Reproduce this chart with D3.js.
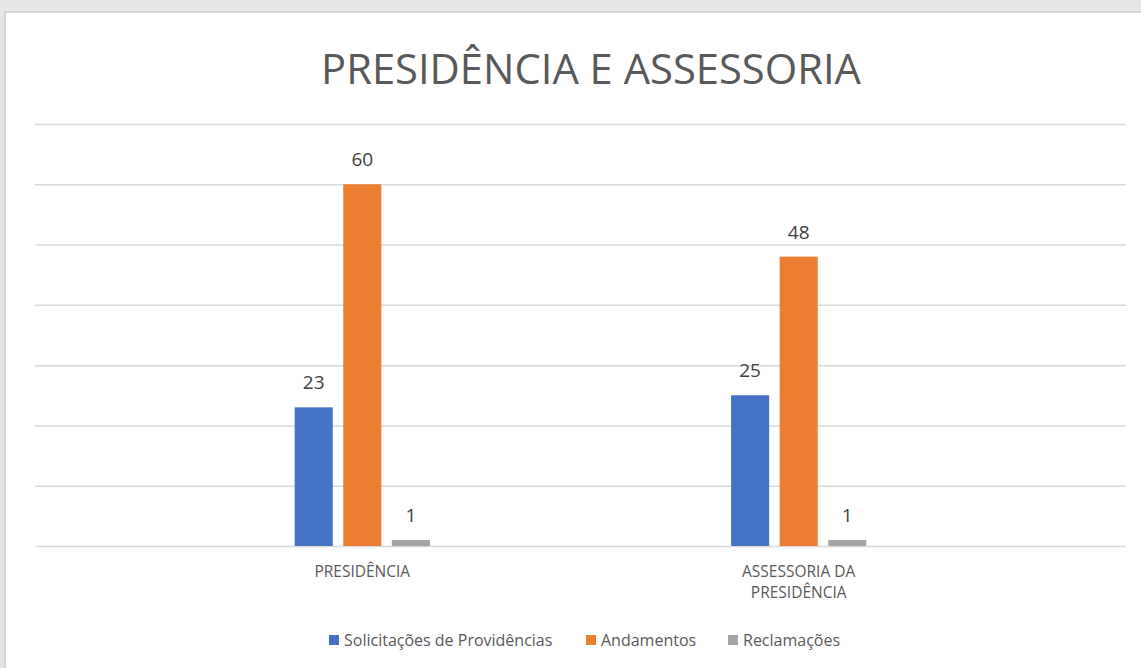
<!DOCTYPE html>
<html>
<head>
<meta charset="utf-8">
<script src="https://cdn.jsdelivr.net/npm/d3@7"></script>
<style>
  body { margin: 0; background: #e6e6e6; }
  svg { display: block; }
</style>
</head>
<body>
<div id="chart"></div>
<script>
var categories = ["PRESIDÊNCIA", "ASSESSORIA DA PRESIDÊNCIA"];
var series = ["Solicitações de Providências", "Andamentos", "Reclamações"];
var solicitacoes = [23, 25];
var andamentos = [60, 48];
var reclamacoes = [1, 1];
var yTicks = [0, 10, 20, 30, 40, 50, 60, 70];
var colors = ["#4472c4", "#ed7d31", "#a5a5a5"];

var width = 1141,
  height = 668;
var plot = { left: 35, right: 1126, top: 124, bottom: 546 };

var svg = d3.select("#chart")
  .append("svg")
  .attr("width", width)
  .attr("height", height);

// panel
svg.append("rect")
  .attr("x", 5).attr("y", 12)
  .attr("width", 1150).attr("height", 670)
  .attr("fill", "#ffffff")
  .attr("stroke", "#d4d4d4")
  .attr("stroke-width", 2);

// title
var title = svg.append("text")
  .attr("x", 591)
  .attr("y", 84)
  .attr("text-anchor", "middle")
  .attr("font-family", "'Open Sans', sans-serif")
  .attr("font-size", 42)
  .attr("fill", "#595959")
  .text("PRESIDÊNCIA E ASSESSORIA");
var tw = title.node().getComputedTextLength();
title.attr("font-size", 42 * 540 / tw);

var rows = categories.map(function(c, i) {
  return { cat: c, values: [solicitacoes[i], andamentos[i], reclamacoes[i]] };
});

var x0 = d3.scaleBand()
  .domain(categories)
  .range([plot.left, plot.right])
  .paddingInner(0)
  .paddingOuter(0.25);

var x1 = d3.scaleBand()
  .domain(series)
  .range([0, x0.bandwidth()])
  .paddingInner(0.216)
  .paddingOuter(3.1);

var y = d3.scaleLinear()
  .domain([0, 70])
  .range([plot.bottom, plot.top]);

// gridlines
var yAxis = d3.axisLeft(y)
  .tickValues(yTicks)
  .tickSize(-(plot.right - plot.left))
  .tickFormat("");
var gy = svg.append("g")
  .attr("transform", "translate(" + plot.left + ",0)")
  .call(yAxis);
gy.select(".domain").remove();
gy.selectAll(".tick line")
  .attr("stroke", "#d9d9d9")
  .attr("stroke-width", 1.5);

// bars
var groups = svg.append("g")
  .selectAll("g")
  .data(rows)
  .enter().append("g")
  .attr("transform", function(d) { return "translate(" + x0(d.cat) + ",0)"; });

groups.selectAll("rect")
  .data(function(d) { return d.values.map(function(v, i) { return { s: series[i], v: v, i: i }; }); })
  .enter().append("rect")
  .attr("x", function(d) { return x1(d.s); })
  .attr("y", function(d) { return y(d.v); })
  .attr("width", x1.bandwidth())
  .attr("height", function(d) { return y(0) - y(d.v); })
  .attr("fill", function(d) { return colors[d.i]; });

groups.selectAll("text")
  .data(function(d) { return d.values.map(function(v, i) { return { s: series[i], v: v, i: i }; }); })
  .enter().append("text")
  .attr("x", function(d) { return x1(d.s) + x1.bandwidth() / 2; })
  .attr("y", function(d) { return y(d.v) - 18; })
  .attr("text-anchor", "middle")
  .attr("font-family", "'Open Sans', sans-serif")
  .attr("font-size", 19)
  .attr("fill", "#404040")
  .text(function(d) { return d.v; });

// category labels
var xAxis = d3.axisBottom(x0).tickSize(0).tickFormat("");
var gx = svg.append("g")
  .attr("transform", "translate(0," + plot.bottom + ")")
  .call(xAxis);
gx.select(".domain").remove();

var catLines = [["PRESIDÊNCIA"], ["ASSESSORIA DA", "PRESIDÊNCIA"]];
categories.forEach(function(c, i) {
  var t = svg.append("text")
    .attr("x", x0(c) + x0.bandwidth() / 2)
    .attr("y", 577)
    .attr("text-anchor", "middle")
    .attr("font-family", "'Open Sans', sans-serif")
    .attr("font-size", 15.5)
    .attr("fill", "#595959");
  catLines[i].forEach(function(line, j) {
    t.append("tspan")
      .attr("x", x0(c) + x0.bandwidth() / 2)
      .attr("dy", j == 0 ? 0 : 21)
      .text(line);
  });
});

// legend
var legendX = [329, 586, 728];
var legend = svg.append("g")
  .selectAll("g")
  .data(series)
  .enter().append("g")
  .attr("transform", function(d, i) { return "translate(" + legendX[i] + ",635)"; });

legend.append("rect")
  .attr("width", 10)
  .attr("height", 10)
  .attr("fill", function(d, i) { return colors[i]; });

legend.append("text")
  .attr("x", 15)
  .attr("y", 11)
  .attr("font-family", "'Open Sans', sans-serif")
  .attr("font-size", 16)
  .attr("fill", "#595959")
  .text(function(d) { return d; });
</script>
</body>
</html>
